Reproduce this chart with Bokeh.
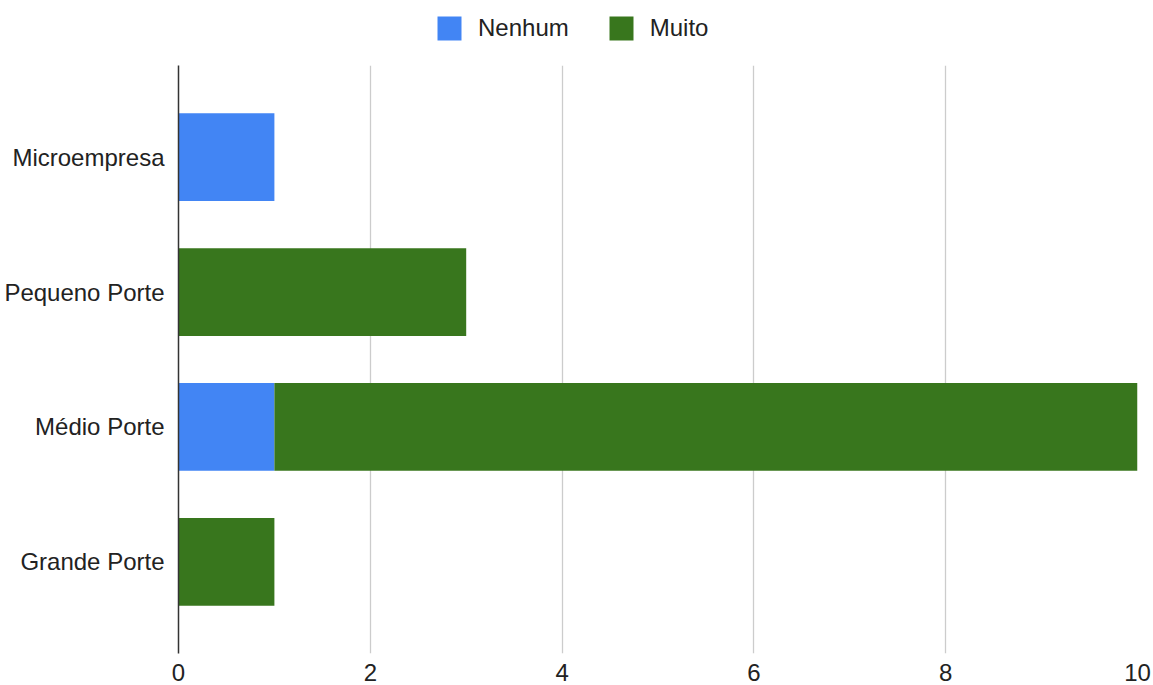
from bokeh.plotting import figure
from bokeh.models import ColumnDataSource, Range1d, FixedTicker, Legend, LegendItem, FactorRange
from bokeh.layouts import column
from bokeh.embed import file_html
from bokeh.resources import INLINE

categories = ["Microempresa", "Pequeno Porte", "Médio Porte", "Grande Porte"]
series = ["Nenhum", "Muito"]
nenhum = [1, 0, 1, 0]
muito = [0, 3, 9, 1]
colors = ["#4285F4", "#38761D"]
x_ticks = [0, 2, 4, 6, 8, 10]

factors = list(reversed(categories))
source = ColumnDataSource(dict(cat=categories, Nenhum=nenhum, Muito=muito))

FONT = "Liberation Sans"
FS = "24px"

# Legend strip on top (zero-size proxy glyphs only feed the legend swatches)
lg = figure(width=1153, height=65, x_range=Range1d(0, 1), y_range=Range1d(0, 1),
            output_backend="svg", toolbar_location=None,
            min_border_left=0, min_border_right=0, min_border_top=0, min_border_bottom=0)
lg.axis.visible = False
lg.grid.visible = False
lg.outline_line_color = None
proxies = [lg.rect(x="Nenhum", y="Muito", width=0, height=0, source=source,
                   color=c, line_color=None) for c in colors]
legend = Legend(items=[LegendItem(label=s, renderers=[r]) for s, r in zip(series, proxies)],
                orientation="horizontal", location=(256, 22),
                glyph_width=30, glyph_height=30, label_height=30, label_standoff=14, spacing=37,
                padding=0, margin=0, border_line_color=None, background_fill_alpha=0,
                label_text_font=FONT, label_text_font_size=FS, label_text_color="#222222")
lg.add_layout(legend, "center")

p = figure(width=1153, height=620, y_range=FactorRange(factors=factors, range_padding=0.089),
           x_range=Range1d(0, 10), output_backend="svg", toolbar_location=None,
           min_border_left=178, min_border_right=16, min_border_top=0, min_border_bottom=32)
p.outline_line_color = None

renderers = p.hbar_stack(series, y="cat", height=0.65, color=colors, source=source, line_color=None)

p.xaxis.ticker = FixedTicker(ticks=x_ticks)
p.xaxis.axis_line_color = None
p.xaxis.major_tick_line_color = None
p.xaxis.minor_tick_line_color = None
p.xaxis.major_label_standoff = 4
p.xaxis.major_label_text_font = FONT
p.xaxis.major_label_text_font_size = FS
p.xaxis.major_label_text_color = "#222222"

p.yaxis.axis_line_color = "#333333"
p.yaxis.axis_line_width = 1.5
p.yaxis.major_tick_line_color = None
p.yaxis.minor_tick_line_color = None
p.yaxis.major_label_standoff = 8
p.yaxis.major_label_text_font = FONT
p.yaxis.major_label_text_font_size = FS
p.yaxis.major_label_text_color = "#222222"

p.xgrid.grid_line_color = "#cccccc"
p.xgrid.grid_line_width = 1.3
p.ygrid.grid_line_color = None

layout = column(lg, p, spacing=0)
open("out.html", "w").write(file_html(layout, INLINE))
